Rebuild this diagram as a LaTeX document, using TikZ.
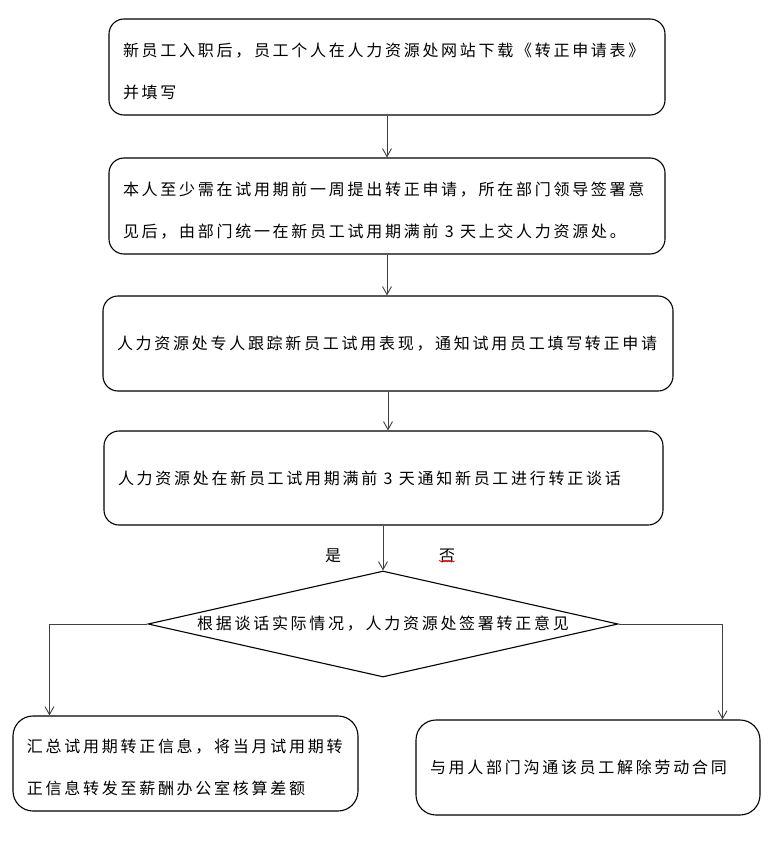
\documentclass[tikz,border=0pt]{standalone}
\usepackage{fontspec}
\newfontfamily\cjk[LetterSpace=17]{Noto Sans CJK SC}
\usetikzlibrary{arrows.meta,shapes.geometric,decorations.pathmorphing}

\begin{document}
\begin{tikzpicture}[x=1pt,y=-1pt,>={Straight Barb[length=8pt,width=9pt]},
  font=\cjk\fontsize{16}{42}\selectfont,
  stepbox/.style={draw,line width=1.1pt,rounded corners=15pt,align=left,inner xsep=14pt,inner ysep=0pt},
  link/.style={->,line width=0.9pt,black!75}]
\useasboundingbox (0,0) rectangle (777,843);
% main chain
\node[stepbox,text width=528pt,minimum height=96pt] (apply) at (387,67)
  {\rule{0pt}{22pt}新员工入职后，员工个人在人力资源处网站下载《转正申请表》\\并填写};
\node[stepbox,text width=528pt,minimum height=96pt] (submit) at (387,206)
  {\rule{0pt}{22pt}本人至少需在试用期前一周提出转正申请，所在部门领导签署意\\见后，由部门统一在新员工试用期满前\hspace{1pt} 3\hspace{1pt} 天上交人力资源处。};
\node[stepbox,text width=542pt,minimum height=95pt] (track) at (388,343.5)
  {人力资源处专人跟踪新员工试用表现，通知试用员工填写转正申请};
\node[stepbox,text width=531pt,minimum height=94pt] (talk) at (383.5,478)
  {人力资源处在新员工试用期满前\hspace{1pt} 3\hspace{1pt} 天通知新员工进行转正谈话};
\node[draw,shape=diamond,aspect=4.43,minimum width=470pt,minimum height=106pt,inner sep=0pt,line width=1.1pt] (dec) at (383,624)
  {根据谈话实际情况，人力资源处签署转正意见};
% outcomes
\node[stepbox,rounded corners=20pt,text width=317pt,minimum height=95pt] (sum) at (185.5,763.5)
  {\rule{0pt}{22pt}汇总试用期转正信息，将当月试用期转\\正信息转发至薪酬办公室核算差额};
\node[stepbox,rounded corners=20pt,text width=316pt,minimum height=95pt] (quit) at (588,767.5)
  {与用人部门沟通该员工解除劳动合同};
\node[inner sep=0pt] (yes) at (333,556) {是};
\node[inner sep=0pt] (no) at (447,556) {否};
\draw[red,line width=0.6pt,decorate,decoration={snake,amplitude=0.8pt,segment length=3pt}]
  ([yshift=2pt]no.south west) -- ([yshift=2pt]no.south east);

\draw[link] (apply.south) -- (apply.south |- submit.north);
\draw[link] (submit.south) -- (submit.south |- track.north);
\draw[link] (track.south) -- (track.south |- talk.north);
\draw[link] (dec.north |- talk.south) -- (dec.north);
\draw[link] (dec.west) -| ([xshift=37pt]sum.north west);
\draw[link] (dec.east) -| ([xshift=-38pt]quit.north east);
\end{tikzpicture}
\end{document}
